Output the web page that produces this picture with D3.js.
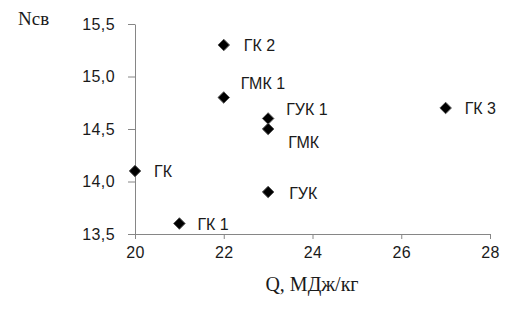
<!DOCTYPE html>
<html><head><meta charset="utf-8">
<script src="https://cdn.jsdelivr.net/npm/d3@7"></script>
<style>body{margin:0;background:#fff}svg{display:block}</style>
</head><body>
<svg id="c" width="527" height="322"></svg>
<script>
const labels = ["ГК", "ГК 1", "ГК 2", "ГМК 1", "ГУК 1", "ГМК", "ГУК", "ГК 3"];
const qValues = [20, 21, 22, 22, 23, 23, 23, 27];
const nValues = [14.1, 13.6, 15.3, 14.8, 14.6, 14.5, 13.9, 14.7];
const xTicks = [20, 22, 24, 26, 28];
const yTicks = [13.5, 14.0, 14.5, 15.0, 15.5];
const xTitle = "Q, МДж/кг";
const yTitle = "Nсв";
// label offsets (layout only)
const labelOffsets = [[19,6],[18,6],[20,6],[17,-9],[18,-4],[20,19],[21,7],[19,6]];

const svg = d3.select("#c");
const x = d3.scaleLinear().domain([20, 28]).range([135, 490]);
const y = d3.scaleLinear().domain([13.5, 15.5]).range([234, 24]);
const fmt = d => d3.format(".1f")(d).replace(".", ",");

const axisColor = "#868686";
const gx = svg.append("g").attr("transform", "translate(0,234)")
  .call(d3.axisBottom(x).tickValues(xTicks).tickSize(5).tickPadding(8).tickSizeOuter(0));
const gy = svg.append("g").attr("transform", "translate(135,0)")
  .call(d3.axisLeft(y).tickValues(yTicks).tickSize(7).tickPadding(13).tickFormat(fmt).tickSizeOuter(0));
[gx, gy].forEach(g => {
  g.selectAll("path,line").attr("stroke", axisColor).attr("stroke-width", 1);
  g.selectAll("text").attr("fill", "#1a1a1a").attr("font-family", "Liberation Sans, sans-serif")
    .attr("font-size", 16).attr("letter-spacing", 0.4);
});

const data = labels.map((l, i) => ({l, q: qValues[i], n: nValues[i], o: labelOffsets[i]}));
svg.append("g").selectAll("path").data(data).join("path")
  .attr("d", d3.symbol(d3.symbolDiamond2, 85))
  .attr("transform", d => `translate(${x(d.q)},${y(d.n)})`)
  .attr("fill", "#000").attr("stroke", "#555").attr("stroke-width", 1);

svg.append("g").selectAll("text").data(data).join("text")
  .attr("x", d => x(d.q) + d.o[0]).attr("y", d => y(d.n) + d.o[1])
  .attr("font-family", "Liberation Sans, sans-serif").attr("font-size", 16).attr("fill", "#1a1a1a")
  .text(d => d.l);

svg.append("text").attr("x", 312).attr("y", 291).attr("text-anchor", "middle")
  .attr("font-family", "Liberation Serif, Times New Roman, serif").attr("font-size", 20).attr("fill", "#1a1a1a")
  .text(xTitle);
svg.append("text").attr("x", 18).attr("y", 25)
  .attr("font-family", "Liberation Serif, Times New Roman, serif").attr("font-size", 19).attr("fill", "#1a1a1a")
  .text(yTitle);
</script>
</body></html>
